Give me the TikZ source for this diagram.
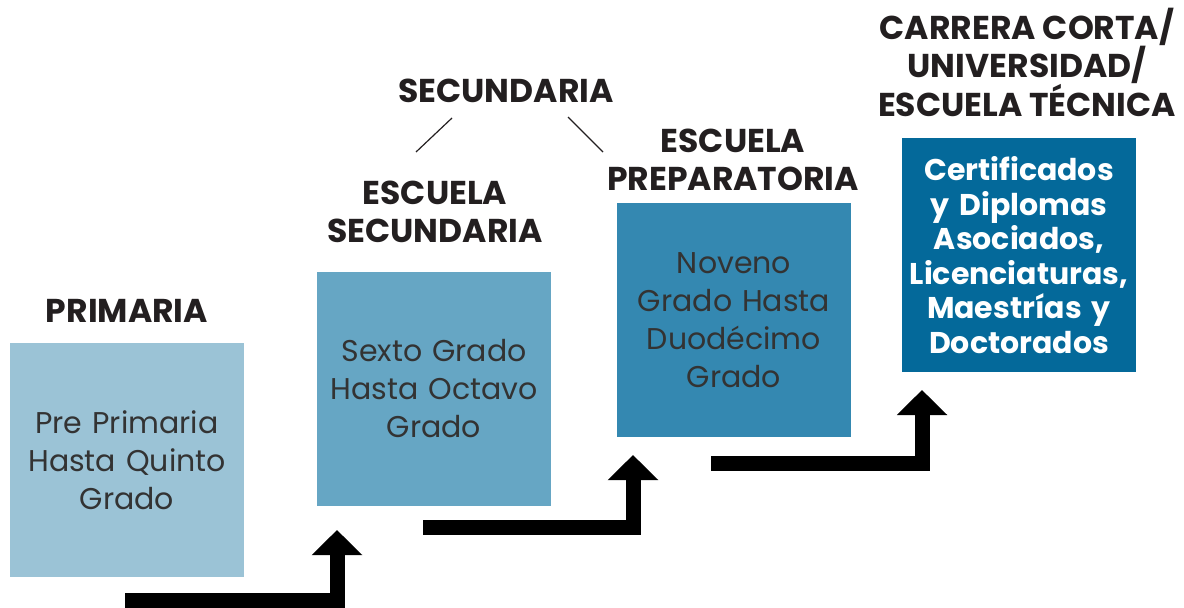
\documentclass[tikz,border=0pt]{standalone}
\usepackage{fontspec}
\setmainfont{Poppins}
\usetikzlibrary{arrows.meta}
\definecolor{nivelA}{HTML}{9BC3D6}
\definecolor{nivelB}{HTML}{66A6C4}
\definecolor{nivelC}{HTML}{3488B1}
\definecolor{nivelD}{HTML}{04699A}
\definecolor{tinta}{HTML}{231F20}
\definecolor{gris}{HTML}{333333}
\tikzset{
	caja/.style={minimum width=234pt, minimum height=234pt, inner sep=0pt, text width=232pt, align=center, font=\fontsize{30}{38}\selectfont, text=gris},
	titulo/.style={align=center, font=\bfseries\fontsize{33}{38.5}\selectfont, text=tinta},
	flecha/.style={line width=15pt, line join=miter, -{Triangle[width=49pt,length=25pt]}},
	rama/.style={line width=1.2pt, tinta}
}
\begin{document}
\begin{tikzpicture}[x=1pt, y=-1pt]
	\useasboundingbox (0,0) rectangle (1184,608);
	% cajas
	\node (pri) at (127,460) [caja, fill=nivelA] {Pre Primaria\\Hasta Quinto\\Grado};
	\node (esc) at (434,389) [caja, fill=nivelB] {Sexto Grado\\Hasta Octavo\\Grado};
	\node (pre) at (734,320) [caja, fill=nivelC] {Noveno\\Grado Hasta\\Duodécimo\\Grado};
	\node (uni) at (1019,255) [caja, fill=nivelD, text=white, font=\bfseries\fontsize{30}{34.5}\selectfont] {Certificados\\y Diplomas\\Asociados,\\Licenciaturas,\\Maestrías y\\Doctorados};
	% titulos
	\node (tpri) at (127,311) [titulo] {PRIMARIA};
	\node (tesc) at (435,212) [titulo] {ESCUELA\\SECUNDARIA};
	\node (tsec) at (506,91) [titulo] {SECUNDARIA};
	\node (tpre) at (733,160) [titulo] {ESCUELA\\PREPARATORIA};
	\node (tuni) at (1027,62) [titulo] {CARRERA CORTA/\\UNIVERSIDAD/\\ESCUELA TÉCNICA};
	% ramas
	\coordinate (r1) at (452,118);
	\coordinate (r2) at (416,152);
	\coordinate (r3) at (568,117);
	\coordinate (r4) at (603,152);
	\draw[rama] (r1) -- (r2);
	\draw[rama] (r3) -- (r4);
	% flechas
	\coordinate (a1) at (125,600.5);
	\coordinate (b1) at (337,600.5);
	\coordinate (c1) at (337,530);
	\coordinate (a2) at (423,527.5);
	\coordinate (b2) at (633,527.5);
	\coordinate (c2) at (633,455);
	\coordinate (a3) at (711,463.5);
	\coordinate (b3) at (922,463.5);
	\coordinate (c3) at (922,390);
	\draw[flecha] (a1) -- (b1) -- (c1);
	\draw[flecha] (a2) -- (b2) -- (c2);
	\draw[flecha] (a3) -- (b3) -- (c3);
\end{tikzpicture}
\end{document}
